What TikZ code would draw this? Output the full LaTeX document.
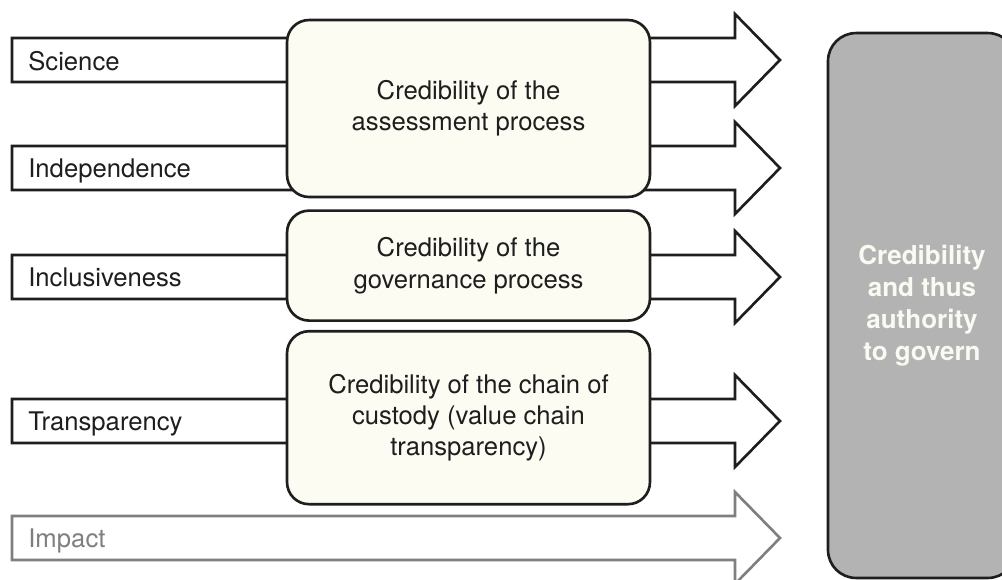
\documentclass[tikz,border=0pt]{standalone}
\usepackage{fontspec}
\setmainfont{TeX Gyre Heros}
\usepackage{xcolor}
\usetikzlibrary{positioning}

\definecolor{boxfill}{HTML}{FCFCF3}
\definecolor{inkblack}{HTML}{1E1E1E}
\definecolor{impactgray}{HTML}{7F7F7F}
\definecolor{goalgray}{HTML}{B3B3B3}
\definecolor{goaltext}{HTML}{FAFAF2}

\begin{document}
\begin{tikzpicture}[
    x=0.02cm, y=-0.02cm,
    flow/.style={draw=inkblack, fill=white, line width=1.5pt, line join=miter},
    pillar/.style={anchor=base west, inner sep=0pt, font=\fontsize{14.6}{17.8}\selectfont, text=inkblack},
    box/.style={rectangle, draw=inkblack, fill=boxfill, line width=1.5pt, rounded corners=0.44cm, minimum width=7.26cm, align=center, font=\fontsize{14.6}{17.8}\selectfont, text=inkblack},
    goal/.style={rectangle, draw=inkblack, fill=goalgray, line width=1.5pt, rounded corners=0.56cm, minimum width=3.76cm, minimum height=10.9cm, align=center, font=\fontsize{14.8}{18.2}\selectfont\bfseries, text=goaltext}
]
    \useasboundingbox (0,0) rectangle (1002,579);
    \clip (0,0) rectangle (1002,579);

    % Block arrows running to the right
    \foreach \c/\col in {60/inkblack, 168/inkblack, 277/inkblack, 421/inkblack, 538/impactgray}
        \draw [flow, draw=\col] (12,\c-22) -- (735,\c-22) -- (735,\c-46) -- (780,\c)
                                -- (735,\c+46) -- (735,\c+22) -- (12,\c+22) -- cycle;

    % Labels on the arrows
    \node [pillar] (science) at (28,70) {Science};
    \node [pillar] (indep) at (28,177) {Independence};
    \node [pillar] (incl) at (28,286) {Inclusiveness};
    \node [pillar] (transp) at (28,430) {Transparency};
    \node [pillar, text=impactgray] (impact) at (28,547) {Impact};

    % Credibility boxes on top of the arrows
    \node [box, minimum height=3.54cm] (assess) at (468.5,108.5) {Credibility of the\\assessment process};
    \node [box, minimum height=2.2cm, below=0.22cm of assess] (govern) {Credibility of the\\governance process};
    \node [box, minimum height=3.46cm, below=0.16cm of govern] (custody) {Credibility of the chain of\\custody (value chain\\transparency)};

    % Outcome
    \node [goal] (outcome) at (922,305.5) {Credibility\\and thus\\authority\\to govern};
\end{tikzpicture}
\end{document}
